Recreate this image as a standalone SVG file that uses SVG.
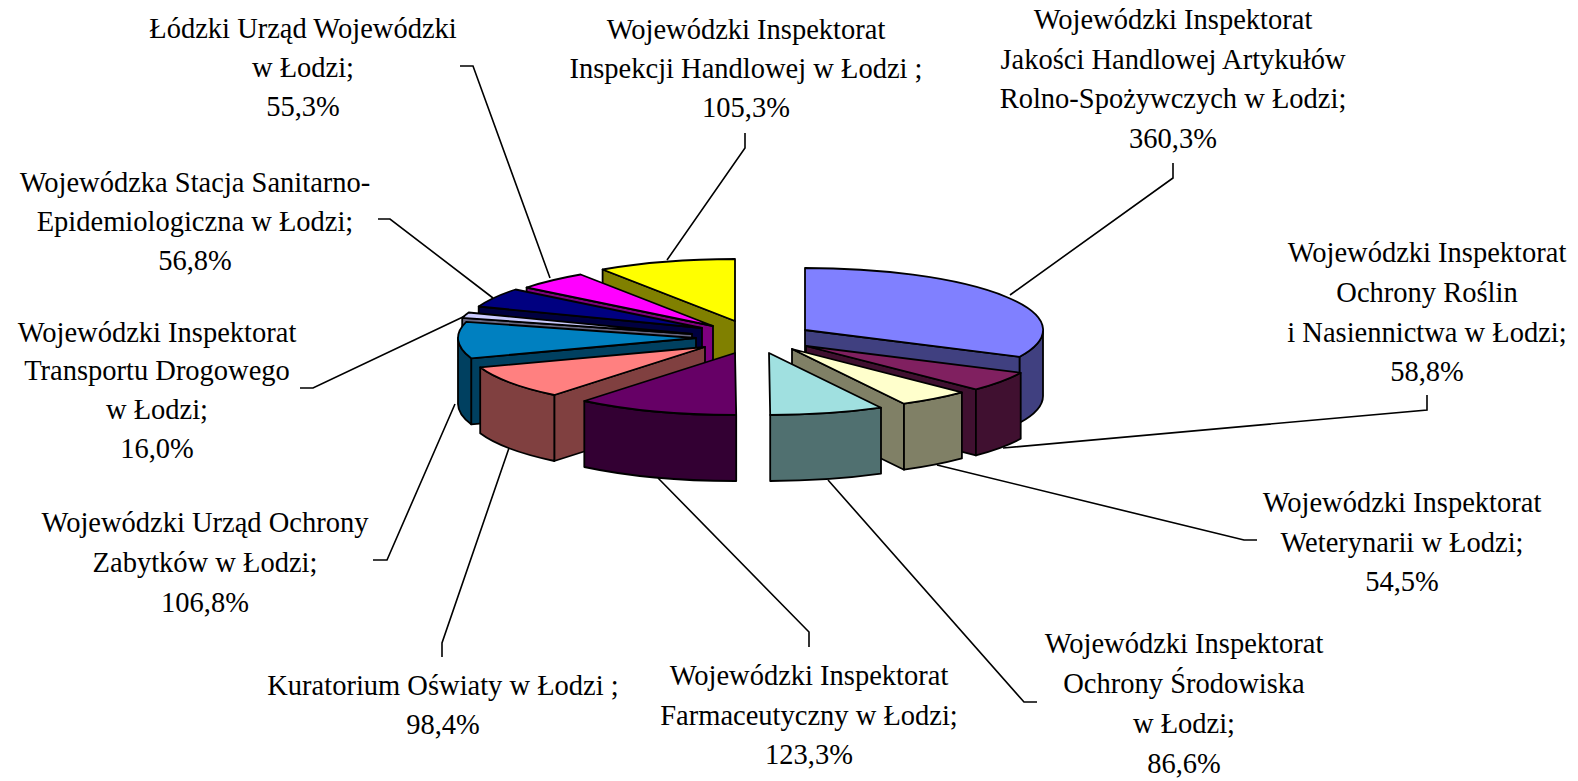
<svg xmlns="http://www.w3.org/2000/svg" width="1578" height="781" viewBox="0 0 1578 781">
<style>
.s{stroke:#000;stroke-width:1.8;stroke-linejoin:round}
.t{font-family:"Liberation Serif","Times New Roman",serif;font-size:28.5px;fill:#000;text-anchor:middle}
.c{fill:none;stroke:#000;stroke-width:1.6}
</style>
<rect width="1578" height="781" fill="#fff"/>
<g id="slice-yellow">
<path class="s" fill="#808000" d="M735,321 L602.6,269.5 L602.6,335.5 L735,387 Z"/>
<path class="s" fill="#FFFF00" d="M735,321 L602.6,269.5 A238,62 0 0 1 735,259 Z"/>
<text class="t" x="746"><tspan x="746" y="39">Wojewódzki Inspektorat</tspan><tspan x="746" y="78">Inspekcji Handlowej w Łodzi ;</tspan><tspan x="746" y="117">105,3%</tspan></text>
</g>
<g id="slice-magenta">
<path class="s" fill="#800080" d="M713,326 L526.6,287.5 L526.6,353.5 L713,392 Z"/>
<path class="s" fill="#FF00FF" d="M713,326 L526.6,287.5 A238,62 0 0 1 580.6,274.5 Z"/>
<text class="t"><tspan x="303" y="38">Łódzki Urząd Wojewódzki</tspan><tspan x="303" y="77">w Łodzi;</tspan><tspan x="303" y="116">55,3%</tspan></text>
</g>
<g id="slice-navy">
<path class="s" fill="#000040" d="M702,328 L478.7,306.5 L478.7,372.5 L702,394 Z"/>
<path class="s" fill="#000080" d="M702,328 L478.7,306.5 A238,62 0 0 1 515.6,289.5 Z"/>
<text class="t"><tspan x="195" y="192">Wojewódzka Stacja Sanitarno-</tspan><tspan x="195" y="231">Epidemiologiczna w Łodzi;</tspan><tspan x="195" y="270">56,8%</tspan></text>
</g>
<g id="slice-lavender">
<path class="s" fill="#666680" d="M692,334 L462.2,317.8 L462.2,383.8 L692,400 Z"/>
<path class="s" fill="#CCCCFF" d="M692,334 L462.2,317.8 A238,62 0 0 1 468.7,312.5 Z"/>
<text class="t"><tspan x="157" y="342">Wojewódzki Inspektorat</tspan><tspan x="157" y="380">Transportu Drogowego</tspan><tspan x="157" y="419">w Łodzi;</tspan><tspan x="157" y="458">16,0%</tspan></text>
</g>
<g id="slice-teal">
<path class="s" fill="#004060" d="M696,338 L471.2,358.3 L471.2,424.3 L696,404 Z"/>
<path class="s" fill="#004060" d="M471.2,358.3 A238,62 0 0 1 458,338 L458,404 A238,62 0 0 0 471.2,424.3 Z"/>
<path class="s" fill="#0080C0" d="M696,338 L471.2,358.3 A238,62 0 0 1 466.2,321.8 Z"/>
<text class="t"><tspan x="205" y="532">Wojewódzki Urząd Ochrony</tspan><tspan x="205" y="572">Zabytków w Łodzi;</tspan><tspan x="205" y="612">106,8%</tspan></text>
</g>
<g id="slice-salmon">
<path class="s" fill="#804040" d="M705,347 L554.3,395 L554.3,461 L705,413 Z"/>
<path class="s" fill="#804040" d="M554.3,395 A238,62 0 0 1 480.2,367.3 L480.2,433.3 A238,62 0 0 0 554.3,461 Z"/>
<path class="s" fill="#FF8080" d="M705,347 L554.3,395 A238,62 0 0 1 480.2,367.3 Z"/>
<text class="t"><tspan x="443" y="695">Kuratorium Oświaty w Łodzi ;</tspan><tspan x="443" y="734">98,4%</tspan></text>
</g>
<g id="slice-purple">
<path class="s" fill="#330033" d="M736.2,415 A238,62 0 0 1 584.3,401 L584.3,467 A238,62 0 0 0 736.2,481 Z"/>
<path class="s" fill="#660066" d="M735,353 L736.2,415 A238,62 0 0 1 584.3,401 Z"/>
<text class="t"><tspan x="809" y="685">Wojewódzki Inspektorat</tspan><tspan x="809" y="725">Farmaceutyczny w Łodzi;</tspan><tspan x="809" y="764">123,3%</tspan></text>
</g>
<g id="slice-blue">
<path class="s" fill="#404080" d="M805,330 L1019.7,356.8 L1019.7,422.8 L805,396 Z"/>
<path class="s" fill="#404080" d="M1043,330 A238,62 0 0 1 1019.7,356.8 L1019.7,422.8 A238,62 0 0 0 1043,396 Z"/>
<path class="s" fill="#8080FF" d="M805,330 L805,268 A238,62 0 0 1 1019.7,356.8 Z"/>
<text class="t"><tspan x="1173" y="29">Wojewódzki Inspektorat</tspan><tspan x="1173" y="68.5">Jakości Handlowej Artykułów</tspan><tspan x="1173" y="108">Rolno-Spożywczych w Łodzi;</tspan><tspan x="1173" y="147.5">360,3%</tspan></text>
</g>
<g id="slice-darkred">
<path class="s" fill="#401030" d="M806,346 L975.9,389.4 L975.9,455.4 L806,412 Z"/>
<path class="s" fill="#401030" d="M1020.7,372.8 A238,62 0 0 1 975.9,389.4 L975.9,455.4 A238,62 0 0 0 1020.7,438.8 Z"/>
<path class="s" fill="#802060" d="M806,346 L1020.7,372.8 A238,62 0 0 1 975.9,389.4 Z"/>
<text class="t"><tspan x="1427" y="262">Wojewódzki Inspektorat</tspan><tspan x="1427" y="302">Ochrony Roślin</tspan><tspan x="1427" y="342">i Nasiennictwa w Łodzi;</tspan><tspan x="1427" y="381">58,8%</tspan></text>
</g>
<g id="slice-cream">
<path class="s" fill="#808066" d="M792,349 L904,403.7 L904,469.7 L792,415 Z"/>
<path class="s" fill="#808066" d="M961.9,392.4 A238,62 0 0 1 904,403.7 L904,469.7 A238,62 0 0 0 961.9,458.4 Z"/>
<path class="s" fill="#FFFFCC" d="M792,349 L961.9,392.4 A238,62 0 0 1 904,403.7 Z"/>
<text class="t"><tspan x="1402" y="512">Wojewódzki Inspektorat</tspan><tspan x="1402" y="552">Weterynarii w Łodzi;</tspan><tspan x="1402" y="591">54,5%</tspan></text>
</g>
<g id="slice-cyan">
<path class="s" fill="#507070" d="M881,407.7 A238,62 0 0 1 770.2,415 L770.2,481 A238,62 0 0 0 881,473.7 Z"/>
<path class="s" fill="#A0E0E0" d="M769,353 L881,407.7 A238,62 0 0 1 770.2,415 Z"/>
<text class="t"><tspan x="1184" y="653">Wojewódzki Inspektorat</tspan><tspan x="1184" y="693">Ochrony Środowiska</tspan><tspan x="1184" y="733">w Łodzi;</tspan><tspan x="1184" y="773">86,6%</tspan></text>
</g>
<g id="connectors">
<polyline class="c" points="1173,163 1173,178 1010,295"/>
<polyline class="c" points="1427,395 1427,410 1003,448"/>
<polyline class="c" points="1257,540 1244,540 937,465"/>
<polyline class="c" points="1037,702 1024,702 828,480"/>
<polyline class="c" points="809,647 809,632 658,478"/>
<polyline class="c" points="442,657 442,643 509,448"/>
<polyline class="c" points="373,560 387,560 455,404"/>
<polyline class="c" points="300,388 313,388 465,316"/>
<polyline class="c" points="378,219 390,219 493,298"/>
<polyline class="c" points="460,66 473,66 550,278"/>
<polyline class="c" points="745,133 745,148 667,260"/>
</g>
</svg>
